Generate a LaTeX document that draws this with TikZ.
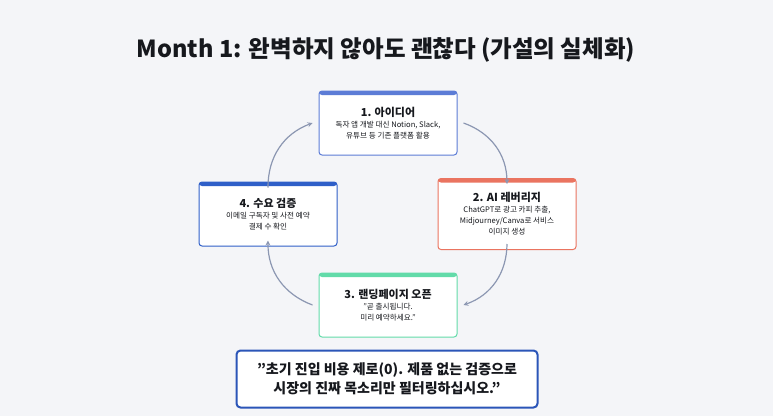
\documentclass[tikz,border=0pt]{standalone}
\usepackage{fontspec}
\setmainfont{Noto Sans CJK KR}
\usetikzlibrary{positioning}
\definecolor{bgcol}{HTML}{F4F5F8}
\definecolor{arrowcol}{HTML}{8C97B2}
\definecolor{ideacol}{HTML}{5C7CD6}
\definecolor{aicol}{HTML}{EA7460}
\definecolor{landcol}{HTML}{62DBA9}
\definecolor{testcol}{HTML}{2F5FC8}
\definecolor{quotecol}{HTML}{2B55B8}
\definecolor{textcol}{HTML}{16181D}
\newcommand{\dq}{{\char"22}}
\begin{document}
\begin{tikzpicture}[x=1pt,y=-1pt]
% STYLES
\tikzset{%
    step/.style={%
        rectangle,rounded corners=3pt,draw=#1,line width=1pt,fill=white,
        minimum width=138pt,minimum height=64pt,align=center,
        text=textcol,font=\fontsize{7.6}{11}\selectfont,
        path picture={\fill[#1] (path picture bounding box.north west)
            rectangle ([yshift=-4pt]path picture bounding box.north east);}
    },
    cycle/.style={->,>=stealth,draw=arrowcol,line width=1.2pt,bend left=35}
}
\fill[bgcol] (0,0) rectangle (773,416);
\node[font=\bfseries\fontsize{23.5}{26}\selectfont,text=textcol] (title) at (386,50)
    {Month 1: 완벽하지 않아도 괜찮다 (가설의 실체화)};
% Draw steps
\node[step=ideacol] (idea) at (388,123)
    {{\bfseries\fontsize{11}{15}\selectfont 1. 아이디어}\\독자 앱 개발 대신 Notion, Slack,\\유튜브 등 기존 플랫폼 활용};
\node[step=aicol,minimum height=71pt] (ai) at (507,214)
    {{\bfseries\fontsize{11}{15}\selectfont 2. AI 레버리지}\\ChatGPT로 광고 카피 추출,\\Midjourney/Canva로 서비스\\이미지 생성};
\node[step=landcol] (landing) at (388,305)
    {{\bfseries\fontsize{11}{15}\selectfont 3. 랜딩페이지 오픈}\\\dq 곧 출시됩니다.\\미리 예약하세요.\dq};
\node[step=testcol] (demand) at (268,214)
    {{\bfseries\fontsize{11}{15}\selectfont 4. 수요 검증}\\이메일 구독자 및 사전 예약\\결제 수 확인};
% Draw the cycle
\draw[cycle] ([xshift=6pt]idea.east) to ([yshift=-6pt]ai.north);
\draw[cycle] ([yshift=6pt]ai.south) to ([xshift=6pt]landing.east);
\draw[cycle] ([xshift=-6pt]landing.west) to ([yshift=6pt]demand.south);
\draw[cycle] ([yshift=-6pt]demand.north) to ([xshift=-6pt]idea.west);
% Quote
\node[draw=quotecol,line width=2pt,rounded corners=4pt,fill=white,align=center,
    minimum width=301pt,minimum height=57pt,text=textcol,
    font=\bfseries\fontsize{14}{19}\selectfont] (quote) at (387,379)
    {\dq 초기 진입 비용 제로(0). 제품 없는 검증으로\\시장의 진짜 목소리만 필터링하십시오.\dq};
\end{tikzpicture}
\end{document}
